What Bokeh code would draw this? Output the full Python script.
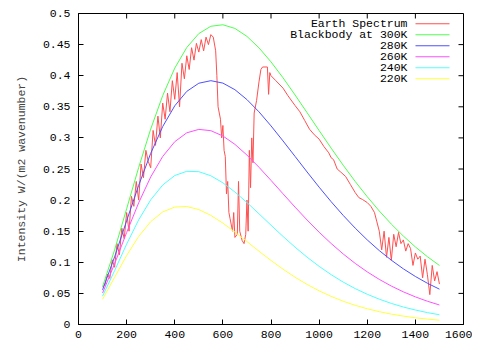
import math
from bokeh.plotting import figure
from bokeh.models import Label, BoxAnnotation, FixedTicker, Range1d, AllLabels
from bokeh.embed import file_html
from bokeh.resources import INLINE

# ---- data ----
bb_wavenumber = [100, 150, 200, 250, 300, 350, 400, 450, 500, 550, 600, 650, 700, 750,
                 800, 850, 900, 950, 1000, 1050, 1100, 1150, 1200, 1250, 1300, 1350,
                 1400, 1450, 1500]
bb_300K = [0.0608, 0.1199, 0.1860, 0.2524, 0.3142, 0.3681, 0.4122, 0.4454, 0.4677, 0.4795,
           0.4819, 0.4760, 0.4632, 0.4448, 0.4222, 0.3966, 0.3690, 0.3405, 0.3118, 0.2835,
           0.2561, 0.2299, 0.2054, 0.1825, 0.1614, 0.1422, 0.1247, 0.1090, 0.0949]
bb_280K = [0.0557, 0.1087, 0.1668, 0.2237, 0.2751, 0.3183, 0.3516, 0.3748, 0.3879, 0.3920,
           0.3881, 0.3775, 0.3616, 0.3419, 0.3193, 0.2951, 0.2702, 0.2452, 0.2208, 0.1974,
           0.1754, 0.1549, 0.1360, 0.1188, 0.1034, 0.0895, 0.0772, 0.0663, 0.0568]
bb_260K = [0.0506, 0.0976, 0.1479, 0.1956, 0.2372, 0.2702, 0.2939, 0.3082, 0.3137, 0.3116,
           0.3031, 0.2896, 0.2724, 0.2528, 0.2317, 0.2101, 0.1887, 0.1680, 0.1484, 0.1302,
           0.1134, 0.0982, 0.0846, 0.0725, 0.0618, 0.0525, 0.0444, 0.0374, 0.0314]
bb_240K = [0.0456, 0.0866, 0.1292, 0.1682, 0.2004, 0.2243, 0.2395, 0.2463, 0.2457, 0.2391,
           0.2278, 0.2130, 0.1961, 0.1780, 0.1596, 0.1416, 0.1243, 0.1082, 0.0935, 0.0801,
           0.0682, 0.0577, 0.0486, 0.0407, 0.0339, 0.0281, 0.0233, 0.0191, 0.0157]
bb_220K = [0.0405, 0.0758, 0.1109, 0.1416, 0.1653, 0.1810, 0.1888, 0.1897, 0.1848, 0.1754,
           0.1630, 0.1486, 0.1333, 0.1178, 0.1029, 0.0889, 0.0760, 0.0644, 0.0541, 0.0452,
           0.0374, 0.0308, 0.0253, 0.0206, 0.0167, 0.0135, 0.0108, 0.0087, 0.0069]

earth_wavenumber = [
    100, 110, 120, 130, 140, 150, 160, 170, 180, 190,
    200, 210, 220, 230, 240, 250, 260, 270, 280, 290,
    300, 310, 320, 330, 340, 350, 360, 370, 380, 390,
    400, 410, 420, 430, 440, 450, 460, 470, 480, 490,
    500, 510, 520, 530, 540, 550, 560,
    570, 575, 580, 590, 595, 600, 605, 610, 615, 620,
    625, 630, 640, 645, 650, 660, 665, 670, 680, 688,
    695, 700, 705, 710, 715, 720, 725, 730, 740, 750,
    758, 765, 785, 790, 795,
    800, 820, 850, 870, 900, 920, 940, 960, 980, 1000,
    1020, 1040, 1050, 1060, 1075, 1090, 1110, 1130, 1150, 1165,
    1180, 1200, 1215, 1230, 1240, 1250,
    1260, 1270, 1280, 1290, 1300, 1310, 1320, 1330, 1340, 1350,
    1360, 1370, 1380, 1390, 1400, 1410, 1420, 1430, 1440, 1450,
    1460, 1470, 1480, 1490, 1500]
earth_intensity = [
    0.060, 0.064, 0.081, 0.074, 0.104, 0.092, 0.130, 0.112, 0.155, 0.138,
    0.180, 0.150, 0.206, 0.190, 0.230, 0.200, 0.258, 0.236, 0.280, 0.262,
    0.252, 0.312, 0.288, 0.335, 0.300, 0.356, 0.330, 0.372, 0.342, 0.392,
    0.362, 0.405, 0.350, 0.420, 0.395, 0.432, 0.410, 0.445, 0.425, 0.452,
    0.438, 0.458, 0.440, 0.462, 0.450, 0.466, 0.462,
    0.440, 0.400, 0.350, 0.330, 0.300, 0.320, 0.280, 0.270, 0.210, 0.230,
    0.180, 0.170, 0.150, 0.180, 0.140, 0.145, 0.230, 0.150, 0.135, 0.130,
    0.145, 0.200, 0.150, 0.280, 0.220, 0.300, 0.260, 0.340, 0.360, 0.390,
    0.410, 0.414, 0.414, 0.370, 0.405,
    0.400, 0.392, 0.380, 0.368, 0.352, 0.342, 0.328, 0.314, 0.305, 0.298,
    0.286, 0.276, 0.268, 0.265, 0.250, 0.245, 0.238, 0.225, 0.212, 0.204,
    0.201, 0.196, 0.190, 0.180, 0.165, 0.150,
    0.120, 0.150, 0.108, 0.140, 0.103, 0.145, 0.125, 0.148, 0.130, 0.136,
    0.118, 0.130, 0.122, 0.095, 0.115, 0.105, 0.110, 0.075, 0.105, 0.080,
    0.048, 0.095, 0.070, 0.085, 0.065]

series_labels = ["Earth Spectrum", "Blackbody at 300K", "280K", "260K", "240K", "220K"]
series_colors = ["#ff5050", "#50ff50", "#5050ff", "#ff50ff", "#50ffff", "#ffff40"]

x_ticks = [0, 200, 400, 600, 800, 1000, 1200, 1400, 1600]
x_tick_labels = ["0", "200", "400", "600", "800", "1000", "1200", "1400", "1600"]
y_ticks = [0, 0.05, 0.1, 0.15, 0.2, 0.25, 0.3, 0.35, 0.4, 0.45, 0.5]
y_tick_labels = ["0", "0.05", "0.1", "0.15", "0.2", "0.25", "0.3", "0.35", "0.4", "0.45", "0.5"]
x_min, x_max = 0, 1600
y_min, y_max = 0, 0.5

FONT = "Liberation Mono"
FS = "11.5px"

p = figure(width=472, height=360, x_range=Range1d(x_min, x_max), y_range=Range1d(y_min, y_max),
           output_backend="svg", toolbar_location=None,
           min_border_left=78, min_border_right=9, min_border_top=13, min_border_bottom=36)
p.xgrid.visible = False
p.ygrid.visible = False
p.outline_line_color = "black"
p.outline_line_alpha = 1.0
p.outline_line_width = 1

for ax in (p.xaxis[0], p.yaxis[0]):
    ax.axis_line_color = "black"
    ax.major_tick_in = 5
    ax.major_tick_out = 0
    ax.minor_tick_in = 0
    ax.minor_tick_out = 0
    ax.major_label_text_font = FONT
    ax.major_label_text_font_size = FS
    ax.major_label_text_color = "black"
    ax.major_label_policy = AllLabels()

p.xaxis.ticker = FixedTicker(ticks=x_ticks)
p.xaxis.major_label_overrides = dict(zip(x_ticks, x_tick_labels))
p.xaxis.major_label_standoff = 6
p.yaxis.ticker = FixedTicker(ticks=y_ticks)
p.yaxis.major_label_overrides = dict(zip(y_ticks, y_tick_labels))
p.yaxis.major_label_standoff = 8
p.yaxis.axis_label = "Intensity W/(m2 wavenumber)"
p.yaxis.axis_label_text_font = FONT
p.yaxis.axis_label_text_font_size = FS
p.yaxis.axis_label_text_font_style = "normal"
p.yaxis.axis_label_standoff = 12

# mirrored inward ticks on top and right edges (gnuplot style)
p.ray(x=x_ticks, y=[y_max] * len(x_ticks), length=5, length_units="screen",
      angle=-math.pi / 2, color="black", line_width=1)
p.ray(x=[x_max] * len(y_ticks), y=y_ticks, length=5, length_units="screen",
      angle=math.pi, color="black", line_width=1)

# curves
p.line(earth_wavenumber, earth_intensity, color=series_colors[0], line_width=1)
for ys, c in zip([bb_300K, bb_280K, bb_260K, bb_240K, bb_220K], series_colors[1:]):
    p.line(bb_wavenumber, ys, color=c, line_width=1)

# legend (gnuplot style: right-aligned text, line sample to the right)
row0 = 300.7
for i, (lab, c) in enumerate(zip(series_labels, series_colors)):
    yy = row0 - 11 * i
    p.add_layout(Label(x=329, y=yy, x_units="screen", y_units="screen", text=lab,
                       text_align="right", text_baseline="middle",
                       text_font=FONT, text_font_size=FS, text_color="black"))
    p.add_layout(BoxAnnotation(left=337, right=371, bottom=yy - 0.5, top=yy + 0.5,
                               left_units="screen", right_units="screen",
                               bottom_units="screen", top_units="screen",
                               fill_color=c, fill_alpha=1, line_color=None))

# x axis title
p.add_layout(Label(x=192.5, y=-24, x_units="screen", y_units="screen", text="Wavenumber",
                   text_align="center", text_baseline="top",
                   text_font=FONT, text_font_size=FS, text_color="black"))

open("out.html", "w").write(file_html(p, INLINE))
